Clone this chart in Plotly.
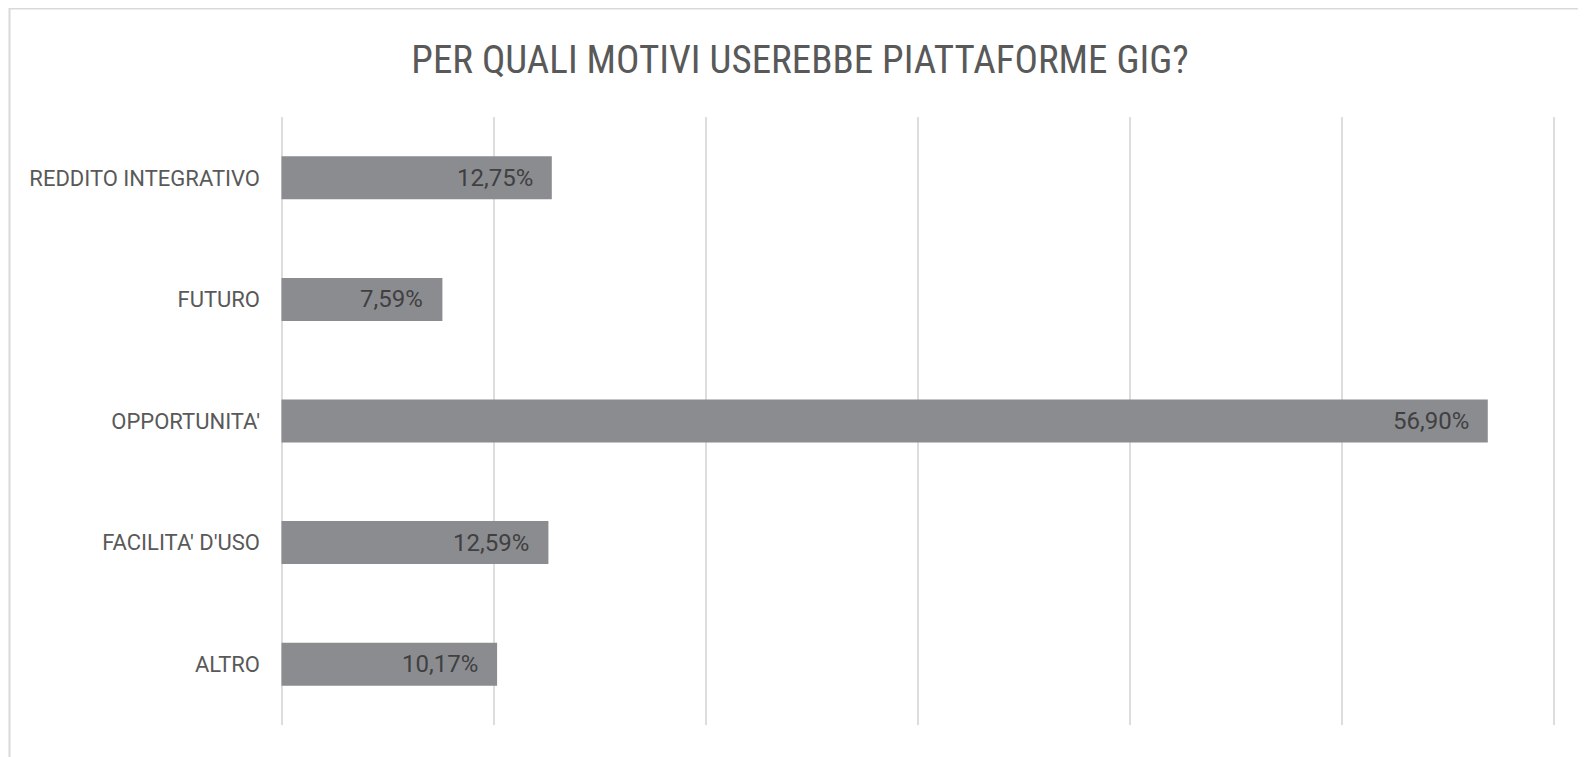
import plotly.graph_objects as go

categories = ["REDDITO INTEGRATIVO", "FUTURO", "OPPORTUNITA'", "FACILITA' D'USO", "ALTRO"]
values = [0.1275, 0.0759, 0.5690, 0.1259, 0.1017]
labels = [f"{v*100:.2f}%".replace(".", ",") for v in values]

title_text = "PER QUALI MOTIVI USEREBBE PIATTAFORME GIG?"

W, H = 1586, 757
ml, mr, mt, mb = 272, 39, 109, 40
pw = W - ml - mr
ph = H - mt - mb
pad = 0.6 * 1.5 / pw

fig = go.Figure()
fig.add_trace(go.Bar(
    x=values, y=categories, orientation="h",
    marker=dict(color="#8B8C90", line=dict(width=0)),
    hoverinfo="skip",
))

for c, v, t in zip(categories, values, labels):
    fig.add_annotation(
        x=v, y=c, xref="x", yref="y", text=t, showarrow=False,
        xanchor="right", yanchor="middle", xshift=-17,
        font=dict(family="Roboto, Arial, sans-serif", size=24, color="#404040"),
    )

fig.add_shape(
    type="rect", xref="paper", yref="paper",
    x0=(1.5 - ml) / pw, x1=2.0, y0=-1.0, y1=(H - mb - 0.5) / ph,
    line=dict(color="#D9D9D9", width=2), fillcolor="rgba(0,0,0,0)", layer="below",
)

cond = "Roboto Condensed, Liberation Sans Narrow, Arial Narrow, sans-serif"

fig.update_layout(
    width=W, height=H,
    margin=dict(l=ml, r=mr, t=mt, b=mb),
    paper_bgcolor="white", plot_bgcolor="white",
    showlegend=False,
    bargap=0.646,
    title=dict(
        text=title_text, x=792 / W, xanchor="center", xref="container",
        y=1 - 51.5 / H, yanchor="middle", yref="container",
        font=dict(family=cond, size=39, color="#595959"),
    ),
    xaxis=dict(
        range=[-pad, 0.6 + pad], dtick=0.1, tick0=0, showticklabels=False,
        showgrid=True, gridcolor="#DDDDDD", gridwidth=2,
        zeroline=False, showline=False, ticks="",
    ),
    yaxis=dict(
        categoryorder="array", categoryarray=categories, autorange="reversed",
        showgrid=False, zeroline=False, showline=False, ticks="",
        ticklabelstandoff=19,
        tickfont=dict(family="Roboto, Arial, sans-serif", size=22, color="#595959"),
    ),
)

fig.write_html("out.html")
